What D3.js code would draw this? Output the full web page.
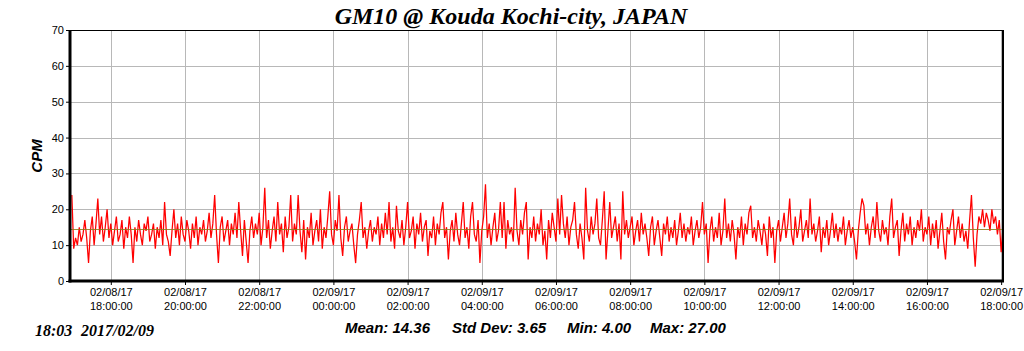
<!DOCTYPE html>
<html>
<head>
<meta charset="UTF-8">
<title>GM10 @ Kouda Kochi-city, JAPAN</title>
<style>
  body { margin: 0; background: #fff; }
  .tick text { font-family: "Liberation Sans", Arial, sans-serif; font-size: 11px; fill: #000; }
  .grid line { stroke: #b8b8b8; stroke-width: 1; shape-rendering: crispEdges; }
</style>
</head>
<body>
<script src="https://cdn.jsdelivr.net/npm/d3@7"></script>
<script>
// chart data (CPM, one reading every 3 minutes)
var title = "GM10 @ Kouda Kochi-city, JAPAN";
var startTime = new Date(2017, 1, 8, 16, 57);
var stepMinutes = 3;
var cpm = [
  24, 9, 12, 10, 15, 11, 13, 17, 12, 5, 14, 18, 10, 16, 23, 13, 18, 11, 15, 20,
  12, 16, 10, 14, 18, 11, 13, 17, 9, 15, 12, 18, 13, 5, 15, 11, 17, 13, 10, 16,
  14, 18, 11, 13, 16, 9, 15, 12, 17, 10, 22, 13, 11, 7, 14, 20, 12, 16, 10, 18,
  13, 11, 17, 14, 9, 16, 12, 18, 10, 15, 13, 17, 11, 14, 19, 12, 16, 24, 13, 5,
  15, 18, 11, 14, 17, 10, 16, 13, 19, 12, 22, 14, 7, 17, 11, 5, 14, 18, 12, 16,
  13, 19, 10, 15, 26, 12, 17, 9, 14, 18, 11, 22, 13, 16, 8, 18, 12, 15, 24, 11,
  16, 13, 24, 14, 8, 17, 6, 15, 12, 19, 10, 14, 17, 11, 20, 9, 15, 12, 18, 25,
  13, 10, 17, 14, 24, 12, 7, 15, 18, 11, 14, 16, 10, 5, 13, 17, 22, 12, 15, 9,
  14, 17, 11, 15, 13, 18, 10, 16, 12, 19, 13, 22, 11, 15, 9, 21, 14, 12, 17, 10,
  15, 22, 12, 14, 18, 9, 16, 13, 19, 11, 15, 17, 7, 14, 12, 18, 10, 16, 13, 19,
  22, 12, 15, 6, 14, 17, 11, 19, 13, 10, 16, 22, 12, 15, 9, 18, 22, 13, 11, 17,
  5, 14, 18, 27, 12, 16, 10, 15, 19, 11, 14, 22, 12, 22, 9, 17, 13, 15, 11, 26,
  14, 10, 17, 13, 19, 22, 6, 15, 12, 18, 11, 16, 13, 20, 10, 14, 6, 17, 12, 19,
  15, 11, 23, 13, 24, 16, 12, 18, 10, 15, 17, 22, 13, 9, 16, 12, 6, 26, 14, 11,
  18, 13, 16, 23, 12, 10, 17, 25, 6, 14, 22, 12, 15, 18, 11, 16, 6, 25, 13, 17,
  12, 15, 18, 10, 14, 17, 11, 19, 13, 16, 12, 7, 15, 18, 10, 14, 17, 12, 7, 16,
  13, 18, 11, 15, 12, 17, 10, 14, 19, 12, 16, 11, 15, 13, 18, 10, 14, 17, 12, 15,
  22, 13, 16, 5, 14, 18, 11, 15, 12, 19, 10, 14, 23, 12, 16, 11, 17, 13, 6, 15,
  12, 18, 10, 16, 13, 19, 21, 12, 15, 11, 17, 14, 10, 16, 13, 7, 18, 12, 15, 5,
  14, 17, 11, 15, 19, 12, 16, 23, 13, 10, 18, 12, 15, 20, 11, 14, 17, 12, 23, 13,
  16, 11, 14, 18, 8, 15, 12, 17, 10, 14, 19, 12, 16, 11, 15, 13, 18, 10, 14, 17,
  12, 15, 11, 6, 14, 19, 23, 21, 13, 16, 10, 15, 18, 12, 22, 14, 11, 17, 13, 15,
  10, 18, 23, 12, 15, 17, 7, 14, 19, 11, 16, 13, 18, 10, 15, 12, 17, 14, 20, 11,
  15, 13, 18, 10, 16, 12, 17, 9, 14, 19, 11, 6, 15, 13, 17, 20, 10, 14, 18, 12,
  16, 11, 14, 9, 17, 24, 12, 4, 13, 18, 16, 20, 15, 19, 17, 14, 20, 16, 18, 13,
  17, 8, 15
];
var meanValue = 14.36;
var stats = ["Mean: 14.36", "Std Dev: 3.65", "Min: 4.00", "Max: 27.00"];
var stamp = ["18:03", "2017/02/09"];
var yTicks = [0, 10, 20, 30, 40, 50, 60, 70];

var width = 1024, height = 351;
var margin = {left: 70, right: 21, top: 30, bottom: 70};
var innerW = width - margin.left - margin.right;
var innerH = height - margin.top - margin.bottom;

var svg = d3.select("body").append("svg")
  .attr("width", width)
  .attr("height", height)
  .style("background", "#fff");

var x = d3.scaleTime()
  .domain([new Date(2017, 1, 8, 16, 54), new Date(2017, 1, 9, 18, 3)])
  .range([0, innerW]);
var y = d3.scaleLinear().domain([0, 70]).range([innerH, 0]);

var g = svg.append("g").attr("transform", "translate(" + margin.left + "," + margin.top + ")");

var xTicks = x.ticks(d3.timeHour.every(2));

// gridlines
g.append("g").attr("class", "grid")
  .selectAll("line").data(yTicks).enter().append("line")
  .attr("x1", 0).attr("x2", innerW)
  .attr("y1", function(d) { return Math.round(y(d)) + 0.5; })
  .attr("y2", function(d) { return Math.round(y(d)) + 0.5; });
g.append("g").attr("class", "grid")
  .selectAll("line").data(xTicks).enter().append("line")
  .attr("y1", 0).attr("y2", innerH)
  .attr("x1", function(d) { return Math.round(x(d)) + 0.5; })
  .attr("x2", function(d) { return Math.round(x(d)) + 0.5; });

// data line
var points = cpm.map(function(v, i) {
  return {t: new Date(startTime.getTime() + i * stepMinutes * 60000), v: v};
});
var line = d3.line()
  .x(function(d) { return x(d.t); })
  .y(function(d) { return y(d.v); });
g.append("path").datum(points)
  .attr("d", line)
  .attr("fill", "none")
  .attr("stroke", "#ff0000")
  .attr("stroke-width", 1.25);

// mean line
g.append("line")
  .attr("x1", 0).attr("x2", innerW)
  .attr("y1", y(meanValue)).attr("y2", y(meanValue))
  .attr("stroke", "#8c7a1a")
  .attr("stroke-opacity", 0.85)
  .attr("stroke-width", 1);

// frame
g.append("line").attr("x1", 0).attr("x2", innerW).attr("y1", 0.5).attr("y2", 0.5)
  .attr("stroke", "#000").attr("stroke-width", 1);
g.append("line").attr("x1", innerW).attr("x2", innerW).attr("y1", 0).attr("y2", innerH)
  .attr("stroke", "#000").attr("stroke-width", 2);

// axes
var yAxis = d3.axisLeft(y).tickValues(yTicks).tickSize(4).tickPadding(2);
var yg = g.append("g").call(yAxis);
yg.select(".domain").remove();
yg.selectAll(".tick line").attr("stroke", "#000");

var xAxis = d3.axisBottom(x).tickValues(xTicks).tickSize(4).tickFormat("");
var xg = g.append("g").attr("transform", "translate(0," + innerH + ")").call(xAxis);
xg.select(".domain").remove();
xg.selectAll(".tick line").attr("stroke", "#000");
var fmtDate = d3.timeFormat("%m/%d/%y"), fmtTime = d3.timeFormat("%H:%M:%S");
xg.selectAll(".tick").append("text")
  .attr("text-anchor", "middle")
  .attr("y", 15)
  .text(function(d) { return fmtDate(d); });
xg.selectAll(".tick").append("text")
  .attr("text-anchor", "middle")
  .attr("y", 29)
  .text(function(d) { return fmtTime(d); });

g.append("line").attr("x1", 0).attr("x2", 0).attr("y1", 0).attr("y2", innerH + 1.5)
  .attr("stroke", "#000").attr("stroke-width", 3);
g.append("line").attr("x1", -1.5).attr("x2", innerW + 1).attr("y1", innerH).attr("y2", innerH)
  .attr("stroke", "#000").attr("stroke-width", 3);

// titles
svg.append("text")
  .attr("x", 511).attr("y", 24)
  .attr("text-anchor", "middle")
  .style("font-family", "'Liberation Serif', 'Times New Roman', serif")
  .style("font-weight", "bold").style("font-style", "italic")
  .style("font-size", "24px")
  .text(title);

svg.append("text")
  .attr("transform", "translate(42,156) rotate(-90)")
  .attr("text-anchor", "middle")
  .style("font-family", "'Liberation Sans', Arial, sans-serif")
  .style("font-weight", "bold").style("font-style", "italic")
  .style("font-size", "15px")
  .text("CPM");

svg.selectAll(".stamp").data(stamp).enter().append("text")
  .attr("class", "stamp")
  .attr("x", function(d, i) { return [35, 81][i]; })
  .attr("y", 336)
  .style("font-family", "'Liberation Serif', 'Times New Roman', serif")
  .style("font-weight", "bold").style("font-style", "italic")
  .style("font-size", "16px")
  .text(function(d) { return d; });

svg.selectAll(".stat").data(stats).enter().append("text")
  .attr("class", "stat")
  .attr("x", function(d, i) { return [345, 452, 567, 650][i]; })
  .attr("y", 333)
  .style("font-family", "'Liberation Sans', Arial, sans-serif")
  .style("font-weight", "bold").style("font-style", "italic")
  .style("font-size", "15px")
  .text(function(d) { return d; });
</script>
</body>
</html>
